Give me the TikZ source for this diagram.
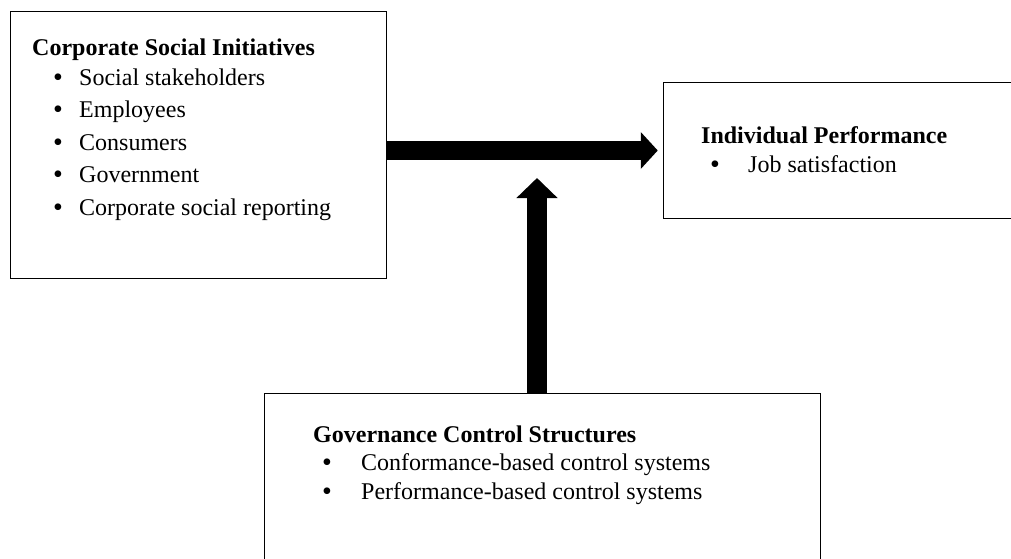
\documentclass[tikz,border=0pt]{standalone}
\usepackage{fontspec}
\setmainfont{Liberation Serif}
\usetikzlibrary{arrows.meta}
\begin{document}
\begin{tikzpicture}[x=1pt,y=-1pt,
  frame/.style={draw, line width=1.4pt, rectangle, inner sep=0pt, anchor=north west},
  headline/.style={anchor=base west, inner sep=0pt, font=\fontsize{24}{29}\selectfont\bfseries},
  entry/.style={anchor=base west, inner sep=0pt, font=\fontsize{24}{29}\selectfont},
  dot/.style={anchor=base, inner sep=0pt, yshift=-1.5pt, font=\fontsize{28}{28}\selectfont},
  flowright/.style={line width=19pt, -{Triangle[width=36pt,length=17pt]}},
  flowup/.style={line width=20pt, -{Triangle[width=40pt,length=20pt]}}]
\useasboundingbox (0,0) rectangle (1011,558);
\fill[white] (0,0) rectangle (1011,558);
\clip (0,0) rectangle (1011,558);

% boxes
\node[frame, minimum width=376pt, minimum height=267pt] (csi) at (10,11) {};
\node[frame, minimum width=360pt, minimum height=136pt] (ip) at (663,82) {};
\node[frame, minimum width=556pt, minimum height=200pt] (gcs) at (264,393) {};

% Corporate Social Initiatives
\node[headline] (csiT) at (32,55) {Corporate Social Initiatives};
\node[dot] (b1) at (58,85) {•};
\node[entry] (c1) at (79,85) {Social stakeholders};
\node[dot] (b2) at (58,117) {•};
\node[entry] (c2) at (79,117) {Employees};
\node[dot] (b3) at (58,150) {•};
\node[entry] (c3) at (79,150) {Consumers};
\node[dot] (b4) at (58,182) {•};
\node[entry] (c4) at (79,182) {Government};
\node[dot] (b5) at (58,215) {•};
\node[entry] (c5) at (79,215) {Corporate social reporting};

% Individual Performance
\node[headline] (ipT) at (701,143) {Individual Performance};
\node[dot] (b6) at (715,172) {•};
\node[entry] (p1) at (748,172) {Job satisfaction};

% Governance Control Structures
\node[headline] (gcsT) at (313,442) {Governance Control Structures};
\node[dot] (b7) at (327,470) {•};
\node[entry] (g1) at (361,470) {Conformance-based control systems};
\node[dot] (b8) at (327,499) {•};
\node[entry] (g2) at (361,499) {Performance-based control systems};

% arrows
\coordinate (hy) at (0,150.5);
\coordinate (vtip) at (537,178);
\draw[flowright, shorten >=5.25pt] (csi.east |- hy) -- (ip.west |- hy);
\draw[flowup] (gcs.north -| vtip) -- (vtip);
\end{tikzpicture}
\end{document}
